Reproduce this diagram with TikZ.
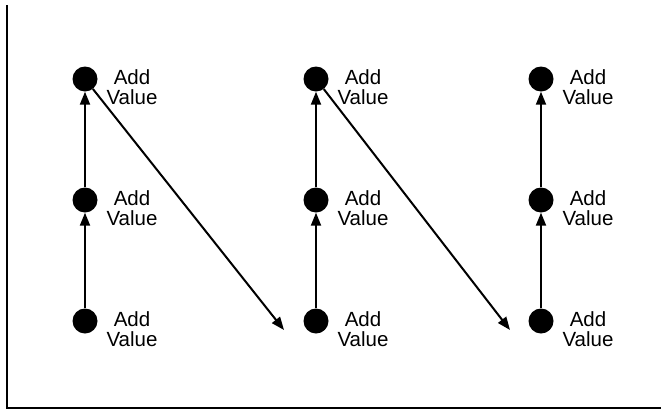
\documentclass[tikz,border=0pt]{standalone}
\usepackage{fontspec}
\setmainfont{Liberation Sans}
\usetikzlibrary{arrows.meta}
\begin{document}
\begin{tikzpicture}[x=1pt,y=-1pt,
  dot/.style={circle,fill=black,minimum size=25pt,inner sep=0pt},
  lbl/.style={align=center,font=\fontsize{20.5}{20}\selectfont,inner sep=0pt},
  arr/.style={line width=2pt,-{Triangle[length=13pt,width=10pt]}}]
\useasboundingbox (0,0) rectangle (661,410);
\draw[line width=2pt] (7,5) -- (7,408) -- (661,408);
\foreach \c/\x in {a/85,b/316,c/541}{
  \foreach \r/\y in {1/79,2/200,3/321}{
    \node[dot] (\c\r) at (\x,\y) {};
    \node[lbl] (\c\r l) at (\x+47,\y+8) {Add\\Value};
  }
  \draw[arr] (\c3) -- (\c2);
  \draw[arr] (\c2) -- (\c1);
}
\coordinate (e1) at (284,330);
\coordinate (e2) at (510,330);
\draw[arr] (a1) -- (e1);
\draw[arr] (b1) -- (e2);
\end{tikzpicture}
\end{document}
